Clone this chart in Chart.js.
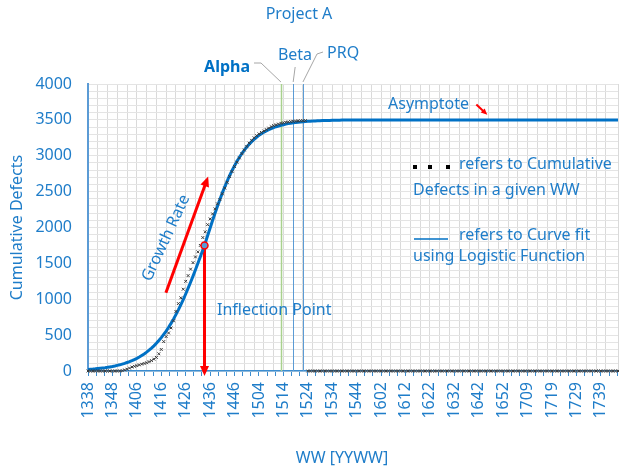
<!DOCTYPE html>
<html>
<head>
<meta charset="utf-8">
<script src="https://cdn.jsdelivr.net/npm/chart.js@4/dist/chart.umd.min.js"></script>
<style>
  html, body { margin: 0; padding: 0; background: #fff; }
</style>
</head>
<body>
<canvas id="defectsChart" width="619" height="469"></canvas>
<script>
// work weeks (YYWW), one category per week
var weeks = [].concat(
    [1338, 1339, 1340, 1341, 1342, 1343, 1344, 1345, 1346, 1347, 1348, 1349, 1350, 1351, 1352],
    [1401, 1402, 1403, 1404, 1405, 1406, 1407, 1408, 1409, 1410, 1411, 1412, 1413, 1414, 1415, 1416, 1417, 1418,
     1419, 1420, 1421, 1422, 1423, 1424, 1425, 1426, 1427, 1428, 1429, 1430, 1431, 1432, 1433, 1434, 1435, 1436,
     1437, 1438, 1439, 1440, 1441, 1442, 1443, 1444, 1445, 1446, 1447, 1448, 1449, 1450, 1451, 1452],
    [1501, 1502, 1503, 1504, 1505, 1506, 1507, 1508, 1509, 1510, 1511, 1512, 1513, 1514, 1515, 1516, 1517, 1518,
     1519, 1520, 1521, 1522, 1523, 1524, 1525, 1526, 1527, 1528, 1529, 1530, 1531, 1532, 1533, 1534, 1535, 1536,
     1537, 1538, 1539, 1540, 1541, 1542, 1543, 1544, 1545, 1546, 1547, 1548, 1549, 1550, 1551, 1552],
    [1601, 1602, 1603, 1604, 1605, 1606, 1607, 1608, 1609, 1610, 1611, 1612, 1613, 1614, 1615, 1616, 1617, 1618,
     1619, 1620, 1621, 1622, 1623, 1624, 1625, 1626, 1627, 1628, 1629, 1630, 1631, 1632, 1633, 1634, 1635, 1636,
     1637, 1638, 1639, 1640, 1641, 1642, 1643, 1644, 1645, 1646, 1647, 1648, 1649, 1650, 1651, 1652, 1653],
    [1701, 1702, 1703, 1704, 1705, 1706, 1707, 1708, 1709, 1710, 1711, 1712, 1713, 1714, 1715, 1716, 1717, 1718,
     1719, 1720, 1721, 1722, 1723, 1724, 1725, 1726, 1727, 1728, 1729, 1730, 1731, 1732, 1733, 1734, 1735, 1736,
     1737, 1738, 1739, 1740, 1741, 1742, 1743, 1744, 1745, 1746]
);

// cumulative defects per WW (weeks not reached yet stay at 0)
var defects = [
    0, 0, 0, 0, 0, 0, 0, 0, 0, 0,
    0, 0, 0, 0, 5, 15, 25, 40, 55, 65,
    75, 85, 95, 105, 115, 130, 145, 165, 190, 240,
    300, 410, 480, 530, 600, 700, 830, 940, 1020, 1140,
    1250, 1330, 1420, 1510, 1590, 1660, 1750, 1860, 1940, 2040,
    2120, 2190, 2260, 2330, 2390, 2470, 2550, 2630, 2710, 2780,
    2850, 2910, 2970, 3030, 3080, 3130, 3175, 3215, 3250, 3280,
    3305, 3325, 3345, 3365, 3385, 3405, 3420, 3432, 3442, 3452,
    3460, 3466, 3472, 3476, 3480, 3483, 3486, 3488, 3489, 3490,
    0, 0, 0, 0, 0, 0, 0, 0, 0, 0,
    0, 0, 0, 0, 0, 0, 0, 0, 0, 0,
    0, 0, 0, 0, 0, 0, 0, 0, 0, 0,
    0, 0, 0, 0, 0, 0, 0, 0, 0, 0,
    0, 0, 0, 0, 0, 0, 0, 0, 0, 0,
    0, 0, 0, 0, 0, 0, 0, 0, 0, 0,
    0, 0, 0, 0, 0, 0, 0, 0, 0, 0,
    0, 0, 0, 0, 0, 0, 0, 0, 0, 0,
    0, 0, 0, 0, 0, 0, 0, 0, 0, 0,
    0, 0, 0, 0, 0, 0, 0, 0, 0, 0,
    0, 0, 0, 0, 0, 0, 0, 0, 0, 0,
    0, 0, 0, 0, 0, 0, 0, 0, 0, 0,
    0, 0, 0, 0, 0, 0, 0, 0
];

// logistic curve fit, same weeks
var fitted = [
    22, 25, 27, 30, 34, 38, 42, 46, 51, 57,
    63, 70, 78, 86, 96, 106, 118, 130, 144, 160,
    176, 195, 216, 238, 263, 290, 319, 351, 386, 424,
    465, 510, 557, 609, 664, 723, 786, 852, 922, 996,
    1073, 1154, 1237, 1323, 1411, 1502, 1593, 1685, 1782, 1888,
    1994, 2098, 2199, 2297, 2391, 2482, 2567, 2648, 2725, 2796,
    2862, 2923, 2980, 3031, 3079, 3122, 3161, 3197, 3229, 3258,
    3284, 3307, 3328, 3347, 3364, 3379, 3393, 3405, 3415, 3425,
    3433, 3441, 3448, 3453, 3459, 3463, 3468, 3471, 3475, 3477,
    3480, 3482, 3484, 3486, 3488, 3489, 3491, 3492, 3493, 3493,
    3494, 3495, 3495, 3496, 3497, 3497, 3497, 3498, 3498, 3498,
    3498, 3499, 3499, 3499, 3499, 3499, 3499, 3499, 3499, 3499,
    3500, 3500, 3500, 3500, 3500, 3500, 3500, 3500, 3500, 3500,
    3500, 3500, 3500, 3500, 3500, 3500, 3500, 3500, 3500, 3500,
    3500, 3500, 3500, 3500, 3500, 3500, 3500, 3500, 3500, 3500,
    3500, 3500, 3500, 3500, 3500, 3500, 3500, 3500, 3500, 3500,
    3500, 3500, 3500, 3500, 3500, 3500, 3500, 3500, 3500, 3500,
    3500, 3500, 3500, 3500, 3500, 3500, 3500, 3500, 3500, 3500,
    3500, 3500, 3500, 3500, 3500, 3500, 3500, 3500, 3500, 3500,
    3500, 3500, 3500, 3500, 3500, 3500, 3500, 3500, 3500, 3500,
    3500, 3500, 3500, 3500, 3500, 3500, 3500, 3500, 3500, 3500,
    3500, 3500, 3500, 3500, 3500, 3500, 3500, 3500
];

var yTicks = [0, 500, 1000, 1500, 2000, 2500, 3000, 3500, 4000];

var milestoneNames = ['Alpha', 'Beta', 'PRQ'];
var milestoneWeeks = [1513, 1518, 1522];

// inflection of the fit: week index, defects
var inflection = {x: 47.7, y: 1750};
var asymptote = 3500;

var BLUE = '#0071C5';
var TEXT = '#1F7DC9';
var RED = '#FF0000';
var FONT = '"Noto Sans", sans-serif';
var lastIndex = weeks.length - 1;

function toPoints(values) {
    return values.map(function (v, i) {
        return {x: i, y: v};
    });
}

function drawArrow(ctx, x1, y1, x2, y2, color, width, head) {
    var ang = Math.atan2(y2 - y1, x2 - x1);
    ctx.save();
    ctx.strokeStyle = color;
    ctx.fillStyle = color;
    ctx.lineWidth = width;
    ctx.beginPath();
    ctx.moveTo(x1, y1);
    ctx.lineTo(x2 - Math.cos(ang) * head * 0.7, y2 - Math.sin(ang) * head * 0.7);
    ctx.stroke();
    ctx.beginPath();
    ctx.moveTo(x2, y2);
    ctx.lineTo(x2 - head * Math.cos(ang - 0.42), y2 - head * Math.sin(ang - 0.42));
    ctx.lineTo(x2 - head * Math.cos(ang + 0.42), y2 - head * Math.sin(ang + 0.42));
    ctx.closePath();
    ctx.fill();
    ctx.restore();
}

function text(ctx, str, x, y, opts) {
    opts = opts || {};
    ctx.save();
    ctx.font = (opts.bold ? 'bold ' : '') + (opts.size || 16) + 'px ' + FONT;
    ctx.fillStyle = opts.color || TEXT;
    ctx.textAlign = opts.align || 'left';
    ctx.textBaseline = 'middle';
    ctx.translate(x, y);
    if (opts.rotate) ctx.rotate(opts.rotate);
    ctx.fillText(str, 0, 0);
    ctx.restore();
}

// milestone lines + red arrows go under the series
var markersPlugin = {
    id: 'markers',
    beforeDatasetsDraw: function (chart) {
        var ctx = chart.ctx, xs = chart.scales.x, ys = chart.scales.y, area = chart.chartArea;
        var lineColors = ['#A9D18E', '#5B9BD5', '#5B9BD5'];
        milestoneWeeks.forEach(function (w, k) {
            var px = Math.round(xs.getPixelForValue(weeks.indexOf(w))) + 0.5;
            ctx.save();
            ctx.strokeStyle = lineColors[k];
            ctx.lineWidth = k === 0 ? 1.5 : 1;
            ctx.beginPath();
            ctx.moveTo(px, area.top);
            ctx.lineTo(px, area.bottom);
            ctx.stroke();
            ctx.restore();
        });

        // growth rate
        drawArrow(ctx, xs.getPixelForValue(31.9), ys.getPixelForValue(1090),
            xs.getPixelForValue(49.2), ys.getPixelForValue(2710), RED, 3, 11);
        // inflection point down to the axis
        drawArrow(ctx, xs.getPixelForValue(inflection.x), ys.getPixelForValue(inflection.y),
            xs.getPixelForValue(inflection.x), ys.getPixelForValue(0) + 5, RED, 3, 11);
    },
    afterDraw: function (chart) {
        var ctx = chart.ctx, xs = chart.scales.x, ys = chart.scales.y, area = chart.chartArea;

        text(ctx, 'Project A', 299, 14, {align: 'center'});
        text(ctx, 'WW [YYWW]', 342, 458, {align: 'center'});

        // milestone callouts
        var top = area.top;
        var ax = xs.getPixelForValue(weeks.indexOf(milestoneWeeks[0]));
        var bx = xs.getPixelForValue(weeks.indexOf(milestoneWeeks[1]));
        var px = xs.getPixelForValue(weeks.indexOf(milestoneWeeks[2]));
        ctx.save();
        ctx.strokeStyle = '#A6A6A6';
        ctx.lineWidth = 1;
        ctx.beginPath();
        ctx.moveTo(254, 63);
        ctx.lineTo(261, 63);
        ctx.lineTo(ax, top - 2);
        ctx.moveTo(bx + 2, 67);
        ctx.lineTo(bx, top - 2);
        ctx.moveTo(323, 52);
        ctx.lineTo(317, 54);
        ctx.lineTo(px, top - 2);
        ctx.stroke();
        ctx.restore();
        text(ctx, milestoneNames[0], 250, 67, {align: 'right', bold: true, color: BLUE});
        text(ctx, milestoneNames[1], 295, 55, {align: 'center'});
        text(ctx, milestoneNames[2], 327, 53);

        // asymptote
        text(ctx, 'Asymptote', 388, 104);
        drawArrow(ctx, xs.getPixelForValue(159), ys.getPixelForValue(3715),
            xs.getPixelForValue(163.5), ys.getPixelForValue(asymptote + 70), RED, 2, 7);

        text(ctx, 'Growth Rate', 166, 238, {align: 'center', rotate: -65 * Math.PI / 180});
        text(ctx, 'Inflection Point', 217, 310);

        // key
        ctx.save();
        ctx.fillStyle = '#000';
        [415, 430, 448].forEach(function (x) {
            ctx.fillRect(x - 2, 165, 4, 4);
        });
        ctx.strokeStyle = BLUE;
        ctx.lineWidth = 1.5;
        ctx.beginPath();
        ctx.moveTo(414, 239);
        ctx.lineTo(448, 239);
        ctx.stroke();
        ctx.restore();
        text(ctx, 'refers to Cumulative', 459, 164);
        text(ctx, 'Defects in a given WW', 413, 190);
        text(ctx, 'refers to Curve fit', 459, 235);
        text(ctx, 'using Logistic Function', 413, 256);
    }
};

var ctx = document.getElementById('defectsChart').getContext('2d');
new Chart(ctx, {
    type: 'line',
    data: {
        datasets: [{
            label: 'Cumulative Defects',
            data: toPoints(defects),
            showLine: false,
            pointStyle: 'crossRot',
            pointRadius: 2,
            pointBorderWidth: 1,
            pointBorderColor: '#3A3A3A',
            pointBackgroundColor: '#3A3A3A',
            clip: 4,
            order: 1
        }, {
            label: 'Logistic fit',
            data: toPoints(fitted),
            borderColor: BLUE,
            borderWidth: 3,
            pointRadius: 0,
            tension: 0,
            fill: false,
            order: 2
        }, {
            label: 'Inflection Point',
            data: [inflection],
            showLine: false,
            pointRadius: 3.5,
            pointBorderWidth: 1.5,
            pointBorderColor: RED,
            pointBackgroundColor: '#5B9BD5',
            order: 0
        }]
    },
    options: {
        responsive: false,
        animation: false,
        events: [],
        layout: {autoPadding: false, padding: {top: 84, right: 1, left: 0, bottom: 0}},
        plugins: {legend: {display: false}, tooltip: {enabled: false}, title: {display: false}},
        scales: {
            x: {
                type: 'linear', position: 'bottom', min: 0, max: lastIndex,
                afterFit: function (s) {
                    s.height = 98;
                    s.paddingLeft = 0;
                    s.paddingRight = 0;
                },
                grid: {display: false, drawTicks: false},
                border: {display: true, color: '#3C8DD0', width: 1.5},
                ticks: {
                    stepSize: 10, autoSkip: false, includeBounds: false,
                    minRotation: 90, maxRotation: 90, padding: 11,
                    color: TEXT, font: {family: FONT, size: 16},
                    callback: function (v) { return v % 10 === 0 ? String(weeks[v]) : ''; }
                }
            },
            xMarks: {
                type: 'linear', position: 'bottom', weight: -1, min: 0, max: lastIndex,
                afterFit: function (s) { s.height = 0; s.paddingLeft = 0; s.paddingRight = 0; },
                ticks: {display: false, stepSize: 10 / 3, includeBounds: false},
                grid: {drawOnChartArea: false, tickLength: 5, color: '#3C8DD0'},
                border: {display: false}
            },
            xGrid: {
                type: 'linear', position: 'bottom', weight: -2, min: 0, max: lastIndex,
                afterFit: function (s) { s.height = 0; s.paddingLeft = 0; s.paddingRight = 0; },
                ticks: {display: false, stepSize: 4},
                grid: {color: '#DADADA', drawTicks: false},
                border: {display: false}
            },
            y: {
                min: 0, max: 4000,
                afterFit: function (s) { s.width = 88; },
                afterBuildTicks: function (s) {
                    s.ticks = yTicks.map(function (v) { return {value: v}; });
                },
                ticks: {
                    padding: 16, color: TEXT, font: {family: FONT, size: 16},
                    callback: function (v) { return String(v); }
                },
                grid: {color: '#D0D0D0', drawTicks: false},
                border: {color: '#5B9BD5', width: 2},
                title: {
                    display: true, text: 'Cumulative Defects', color: TEXT,
                    font: {family: FONT, size: 16}, padding: {top: 8, bottom: 0}
                }
            },
            yGrid: {
                position: 'left', min: 0, max: 4000, weight: -1,
                afterFit: function (s) { s.width = 0; },
                ticks: {display: false, stepSize: 100},
                grid: {color: '#E4E4E4', drawTicks: false},
                border: {display: false}
            }
        }
    },
    plugins: [markersPlugin]
});
</script>
</body>
</html>
